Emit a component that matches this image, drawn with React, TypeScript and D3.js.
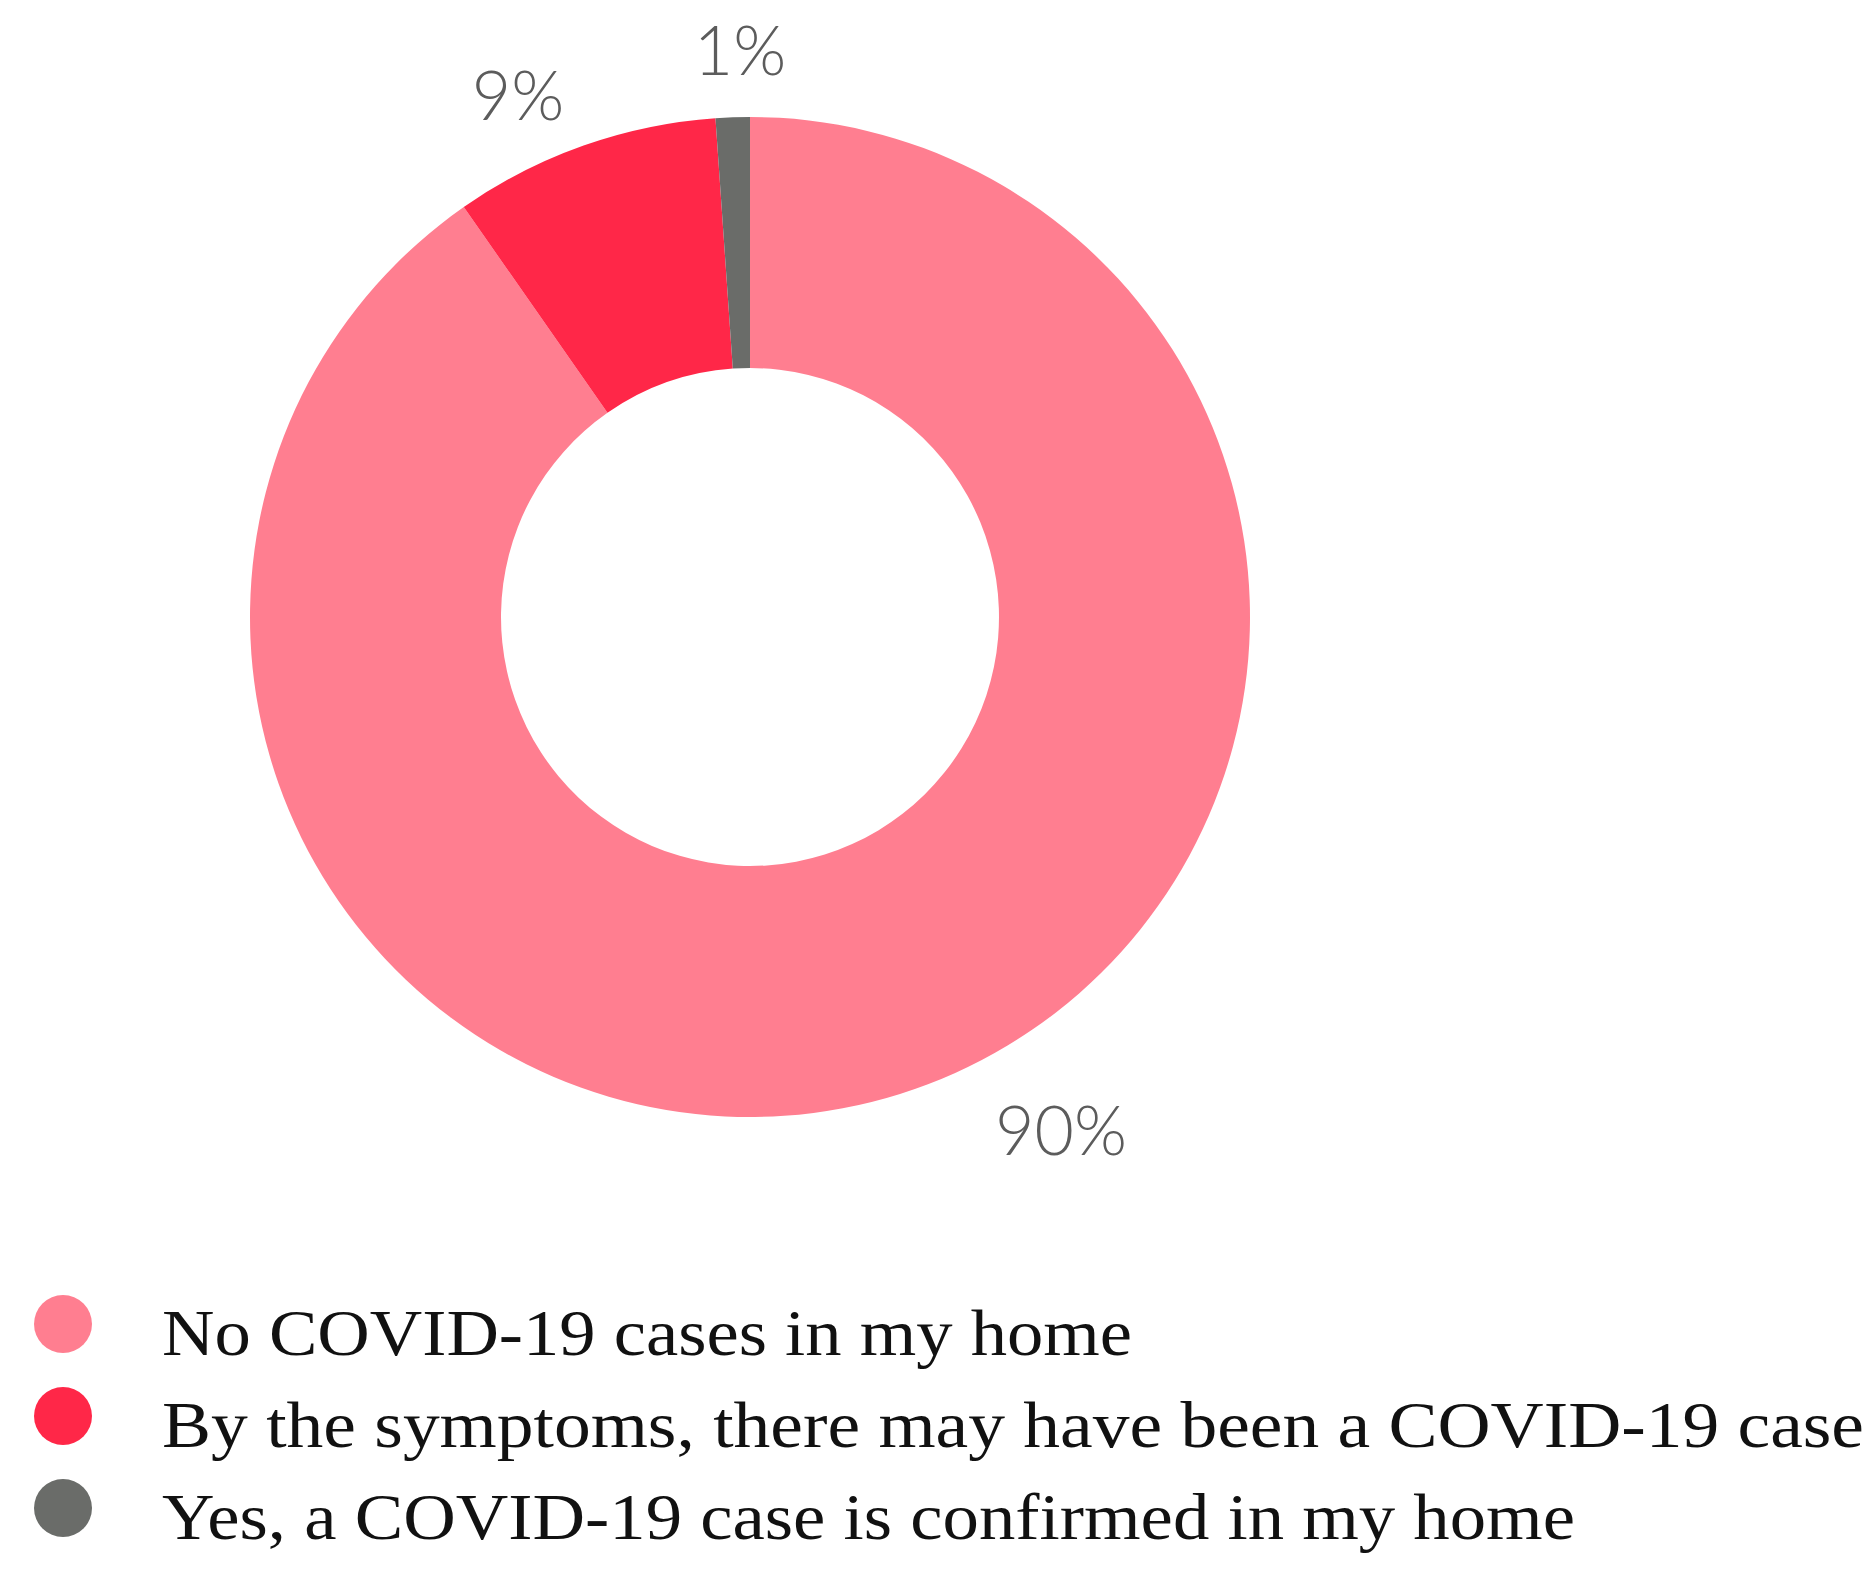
import React from "react";
import * as d3 from "d3";

const categories = [
  "No COVID-19 cases in my home",
  "By the symptoms, there may have been a COVID-19 case",
  "Yes, a COVID-19 case is confirmed in my home",
];
const values = [90.3, 8.6, 1.1];
const valueLabels = ["90%", "9%", "1%"];
const colors = ["#FF7E90", "#FF2748", "#6A6C69"];

const W = 1873;
const H = 1579;
const cx = 750;
const cy = 617;
const outerR = 500;
const innerR = 249;

const legendWidths = [970, 1702, 1413];

export default function App() {
  const pie = d3.pie<number>().sort(null).value((d) => d);
  const arcs = pie(values);
  const arc = d3.arc<d3.PieArcDatum<number>>().innerRadius(innerR).outerRadius(outerR);

  const labelPos = [
    { x: 1061, y: 1155 },
    { x: 518, y: 120 },
    { x: 740, y: 75 },
  ];

  return (
    <svg
      width={W}
      height={H}
      style={{ position: "absolute", left: 0, top: 0, background: "#fff" }}
    >
      <g transform={`translate(${cx},${cy})`}>
        {arcs.map((a, i) => (
          <path key={i} d={arc(a) || ""} fill={colors[i]} />
        ))}
      </g>
      {valueLabels.map((t, i) => (
        <text
          key={i}
          x={labelPos[i].x}
          y={labelPos[i].y}
          textAnchor="middle"
          fontFamily="Lato, 'Open Sans', sans-serif"
          fontWeight={300}
          fontSize={68}
          fill="#5c5c5c"
        >
          {t}
        </text>
      ))}
      {categories.map((c, i) => {
        const y = 1324 + i * 92;
        return (
          <g key={i}>
            <circle cx={63} cy={y} r={29} fill={colors[i]} />
            <text
              x={162}
              y={y + 31}
              fontFamily="'Liberation Serif', 'DejaVu Serif', serif"
              fontSize={65}
              fill="#111"
              textLength={legendWidths[i]}
              lengthAdjust="spacingAndGlyphs"
            >
              {c}
            </text>
          </g>
        );
      })}
    </svg>
  );
}
